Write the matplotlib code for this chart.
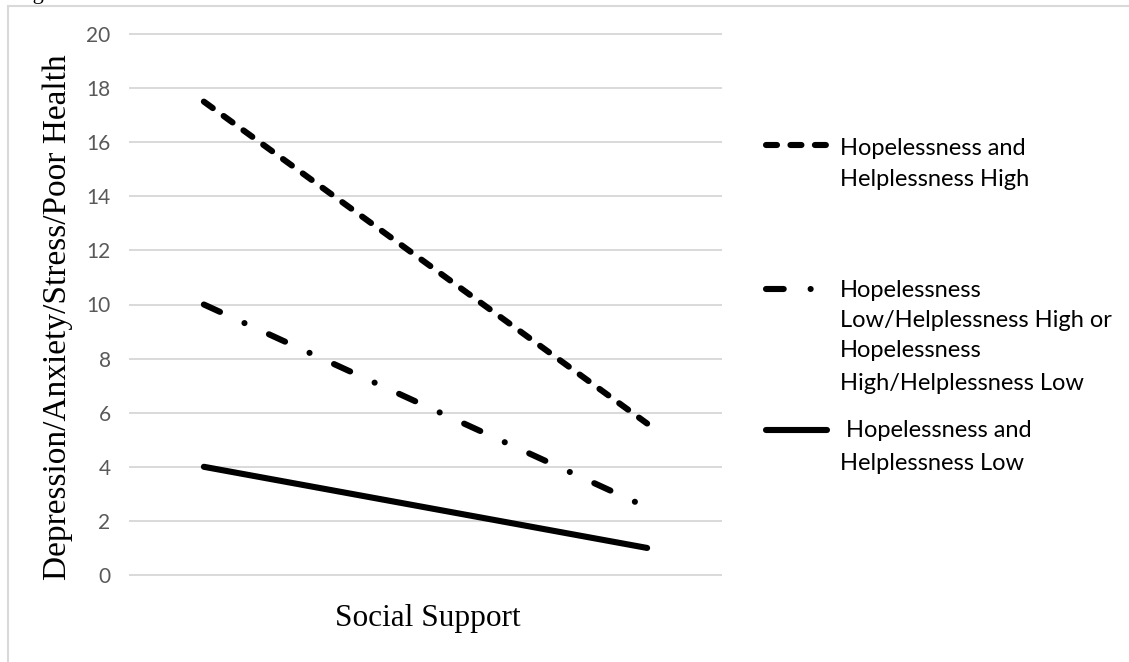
import matplotlib
matplotlib.use("Agg")
import matplotlib.pyplot as plt
from matplotlib.lines import Line2D
from matplotlib.patches import Rectangle

W, H = 1129, 662

# data
x_pos = [0, 1]
high_vals = [17.5, 5.6]
mixed_vals = [10.0, 2.5]
low_vals = [4.0, 1.0]
yticks = list(range(0, 21, 2))

legend_high = ["Hopelessness and", "Helplessness High"]
legend_mixed = ["Hopelessness", "Low/Helplessness High or", "Hopelessness", "High/Helplessness Low"]
legend_low = [" Hopelessness and", "Helplessness Low"]

def fx(px):
    return px / W

def fy(py):
    return 1 - py / H

grid_c = "#d9d9d9"
tick_c = "#595959"
sans = "Lato"
serif = "Liberation Serif"

dashed = (0, (1.8, 2.2))
dashdot = (0, (2.9, 4.4, 0.01, 4.4))
lw = 4.4

fig = plt.figure(figsize=(W / 100, H / 100), dpi=100)
fig.patch.set_facecolor("white")

# outer chart frame (cropped at right and bottom)
fig.add_artist(Rectangle((fx(8), fy(H + 20)), 2, fy(6) - fy(H + 20), transform=fig.transFigure,
                         fill=False, edgecolor=grid_c, lw=1.5))
fig.text(fx(14), fy(-1), "Figure", family=serif, fontsize=16, va="baseline")

ax = fig.add_axes([fx(130), fy(575), fx(721) - fx(130), fy(34) - fy(575)])
ax.plot(x_pos, high_vals, color="black", lw=lw, linestyle=dashed, dash_capstyle="round",
        solid_capstyle="round")
ax.plot(x_pos, mixed_vals, color="black", lw=lw, linestyle=dashdot, dash_capstyle="round",
        solid_capstyle="round")
ax.plot(x_pos, low_vals, color="black", lw=lw, solid_capstyle="round")

ax.set_xlim(-1 / 6, 1 + 1 / 6)
ax.set_ylim(0, 20)
ax.set_yticks(yticks)
ax.set_xticks([])
for s in ax.spines.values():
    s.set_visible(False)
ax.tick_params(axis="y", length=0, pad=14, labelcolor=tick_c, labelsize=15)
for t in ax.get_yticklabels():
    t.set_family(sans)
ax.grid(axis="y", color=grid_c, lw=1.4)
ax.set_axisbelow(True)
for gl in ax.get_ygridlines():
    gl.set_clip_on(False)

fig.text(fx(58), fy(317), "Depression/Anxiety/Stress/Poor Health", family=serif, fontsize=24,
         rotation=90, ha="center", va="center")
fig.text(fx(428), fy(626), "Social Support", family=serif, fontsize=22.5, ha="center", va="baseline")

# legend drawn by hand so the samples line up with the first text line
entries = [
    (dashed, 145, legend_high, [155, 186]),
    (dashdot, 289, legend_mixed, [297, 327, 357, 390]),
    ("-", 430, legend_low, [437, 470]),
]
for ls, sy, lines, bases in entries:
    fig.add_artist(Line2D([fx(766), fx(827)], [fy(sy), fy(sy)], transform=fig.transFigure,
                          color="black", lw=lw, linestyle=ls, dash_capstyle="round",
                          solid_capstyle="round"))
    for txt, b in zip(lines, bases):
        fig.text(fx(840), fy(b), txt, family=sans, fontsize=17, va="baseline", color="black")

fig.savefig("out.png", dpi=100)
